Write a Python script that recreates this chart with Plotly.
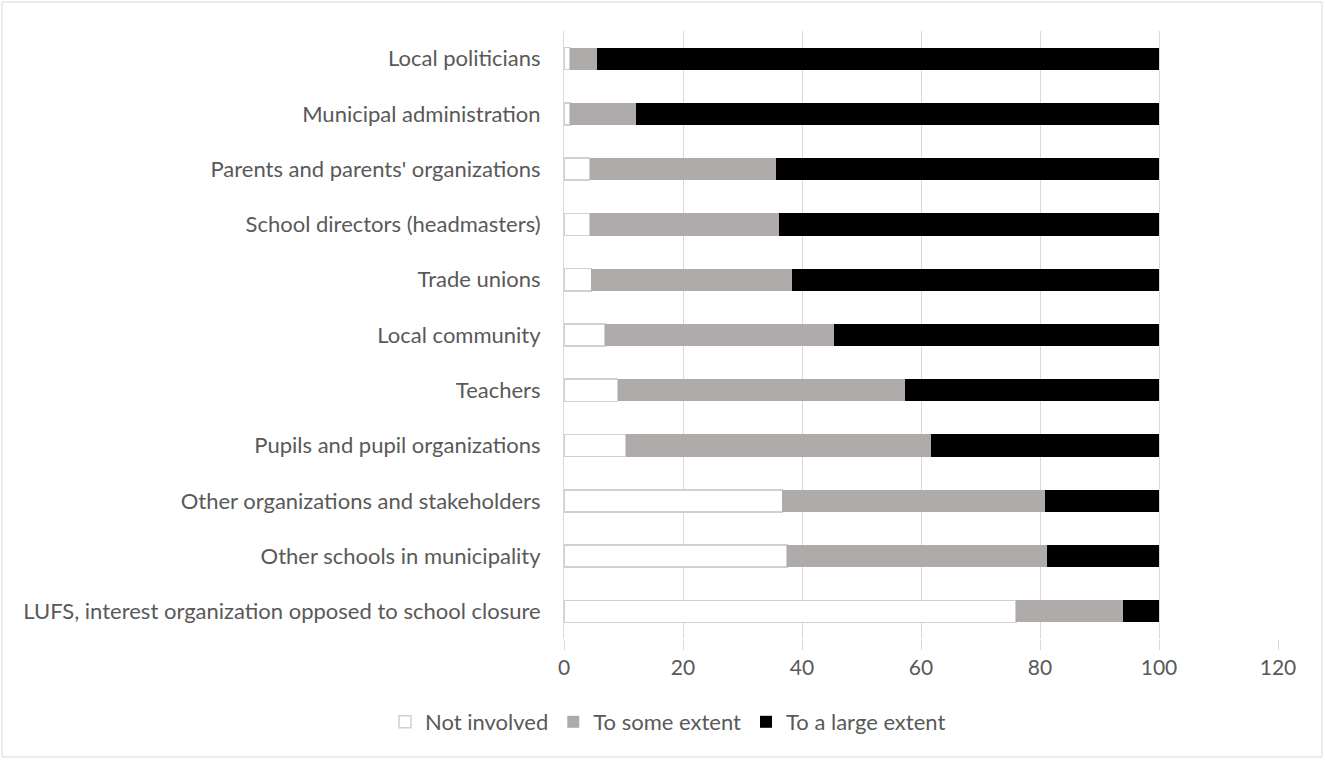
import plotly.graph_objects as go

categories = [
    "Local politicians",
    "Municipal administration",
    "Parents and parents' organizations",
    "School directors (headmasters)",
    "Trade unions",
    "Local community",
    "Teachers",
    "Pupils and pupil organizations",
    "Other organizations and stakeholders",
    "Other schools in municipality",
    "LUFS, interest organization opposed to school closure",
]
not_involved = [1.0, 1.0, 4.3, 4.4, 4.6, 6.9, 9.0, 10.4, 36.7, 37.5, 76.0]
some_extent = [4.5, 11.1, 31.3, 31.8, 33.8, 38.5, 48.3, 51.3, 44.1, 43.7, 18.0]
large_extent = [94.5, 87.9, 64.4, 63.8, 61.6, 54.6, 42.7, 38.3, 19.2, 18.8, 6.0]
x_ticks = [0, 20, 40, 60, 80, 100, 120]

FONT = "Lato"
TXT = "#595959"
GRID = "#d9d9d9"

fig = go.Figure()
fig.add_trace(go.Bar(y=categories, x=not_involved, orientation="h", name="Not involved",
                     marker=dict(color="#ffffff", line=dict(color="#d0d0d0", width=1.5))))
fig.add_trace(go.Bar(y=categories, x=some_extent, orientation="h", name="To some extent",
                     marker=dict(color="#afabab", line=dict(width=0))))
fig.add_trace(go.Bar(y=categories, x=large_extent, orientation="h", name="To a large extent",
                     marker=dict(color="#000000", line=dict(width=0))))

L, R, T, B = 564, 47, 31, 121
W, H = 1325, 760
pw, ph = W - L - R, H - T - B

fig.update_layout(
    barmode="stack",
    bargap=0.6,
    width=W, height=H,
    margin=dict(l=L, r=R, t=T, b=B),
    paper_bgcolor="white", plot_bgcolor="white",
    font=dict(family=FONT, size=21, color=TXT),
    legend=dict(orientation="h", x=(668 - L) / pw, xanchor="center",
                y=-(722 - (T + ph)) / ph, yanchor="middle",
                font=dict(size=22, color=TXT), traceorder="normal",
                itemwidth=30),
    xaxis=dict(range=[0, 120], tickvals=x_ticks, showgrid=True, gridcolor=GRID, gridwidth=1,
               zeroline=False, showline=False, ticks="outside", ticklen=10, tickcolor=GRID,
               tickfont=dict(size=21, color=TXT)),
    yaxis=dict(categoryorder="array", categoryarray=categories, autorange="reversed",
               showline=True, linecolor=GRID, linewidth=1, ticks="", showgrid=False,
               ticklabelstandoff=18, tickfont=dict(size=22, color=TXT)),
    shapes=[dict(type="rect", xref="paper", yref="paper",
                 x0=(2 - L) / pw, x1=(W - 3 - L) / pw,
                 y0=-(H - 3 - (T + ph)) / ph, y1=1 + (T - 2) / ph,
                 line=dict(color=GRID, width=1), fillcolor="rgba(0,0,0,0)", layer="below")],
)

fig.write_html("out.html", config={"displayModeBar": False},
               post_script="document.body.style.margin='0';document.body.style.padding='0';")
